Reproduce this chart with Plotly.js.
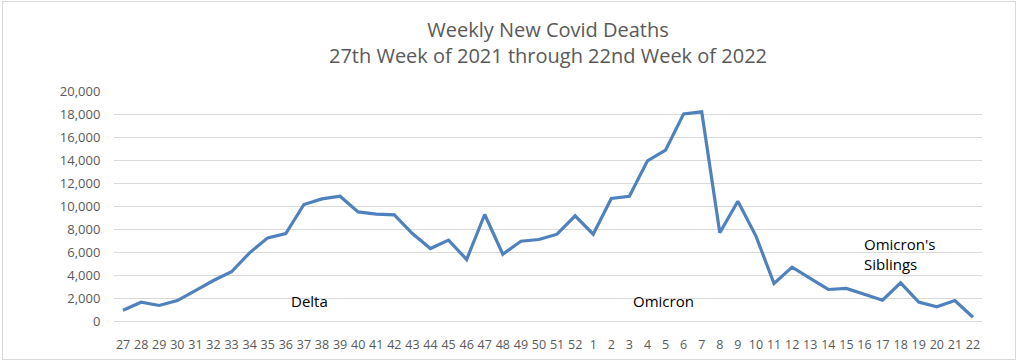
<!DOCTYPE html>
<html>
<head>
<meta charset="utf-8">
<script src="https://cdn.plot.ly/plotly-3.0.1.min.js"></script>
<style>
  html, body { margin: 0; padding: 0; background: #fff; }
  #frame { position: absolute; left: 2px; top: 1px; width: 1012px; height: 357px; border: 1px solid #d9d9d9; }
  #chart { position: absolute; left: 0; top: 0; width: 1024px; height: 362px; }
</style>
</head>
<body>
<div id="frame"></div>
<div id="chart"></div>
<script>
const weeks = ['27','28','29','30','31','32','33','34','35','36','37','38','39','40','41','42','43','44','45','46','47','48','49','50','51','52',
               '1','2','3','4','5','6','7','8','9','10','11','12','13','14','15','16','17','18','19','20','21','22'];
const deaths = [940, 1630, 1350, 1780, 2650, 3520, 4280, 5930, 7230, 7600, 10130, 10620, 10850, 9490, 9290, 9230,
                7600, 6300, 7030, 5350, 9260, 5810, 6940, 7090, 7550, 9140,
                7550, 10650, 10850, 13930, 14850, 18010, 18190, 7670, 10420, 7380, 3260, 4680, 3700, 2740, 2830, 2300,
                1810, 3320, 1640, 1230, 1780, 330];
const yTicks = [0, 2000, 4000, 6000, 8000, 10000, 12000, 14000, 16000, 18000, 20000];
const yTickText = ['0','2,000','4,000','6,000','8,000','10,000','12,000','14,000','16,000','18,000','20,000'];
const labelTexts = ['Delta', 'Omicron', "Omicron's<br>Siblings"];

const font = '"Open Sans", "Liberation Sans", sans-serif';

const trace = {
  x: weeks, y: deaths, type: 'scatter', mode: 'lines',
  line: { color: '#4f81bd', width: 3.2 },
  hoverinfo: 'x+y'
};

const layout = {
  width: 1024, height: 362,
  paper_bgcolor: 'rgba(0,0,0,0)', plot_bgcolor: 'rgba(0,0,0,0)',
  margin: { l: 114, r: 42, t: 91, b: 41 },
  showlegend: false,
  title: {
    text: 'Weekly New Covid Deaths<br>27th Week of 2021 through 22nd Week of 2022',
    font: { family: font, size: 20, color: '#595959' },
    xref: 'paper', x: 0.5, xanchor: 'center',
    yref: 'container', y: 0.898, yanchor: 'middle'
  },
  xaxis: {
    type: 'category', range: [-0.5, weeks.length - 0.5], tickangle: 0, automargin: false,
    showgrid: false, showline: false, zeroline: false,
    ticks: 'outside', ticklen: 12, tickcolor: 'rgba(0,0,0,0)',
    tickfont: { family: font, size: 12.5, color: '#595959' }
  },
  yaxis: {
    range: [0, 20000], tickmode: 'array', tickvals: yTicks, ticktext: yTickText,
    showgrid: true, gridcolor: '#d9d9d9', gridwidth: 1,
    zeroline: true, zerolinecolor: '#d9d9d9', zerolinewidth: 1,
    showline: false, automargin: false,
    ticks: 'outside', ticklen: 10, tickcolor: 'rgba(0,0,0,0)',
    tickfont: { family: font, size: 13, color: '#595959' }
  },
  annotations: [
    { text: labelTexts[0], xref: 'paper', yref: 'y', x: 0.2247, y: 1700, showarrow: false,
      xanchor: 'center', yanchor: 'middle', font: { family: font, size: 15, color: '#000' } },
    { text: labelTexts[1], xref: 'paper', yref: 'y', x: 0.6325, y: 1700, showarrow: false,
      xanchor: 'center', yanchor: 'middle', font: { family: font, size: 15, color: '#000' } },
    { text: labelTexts[2], xref: 'paper', yref: 'y', x: 0.862, y: 5870, showarrow: false, align: 'left',
      xanchor: 'left', yanchor: 'middle', font: { family: font, size: 15, color: '#000' } }
  ]
};

Plotly.newPlot('chart', [trace], layout, { displayModeBar: false, staticPlot: true });
</script>
</body>
</html>
